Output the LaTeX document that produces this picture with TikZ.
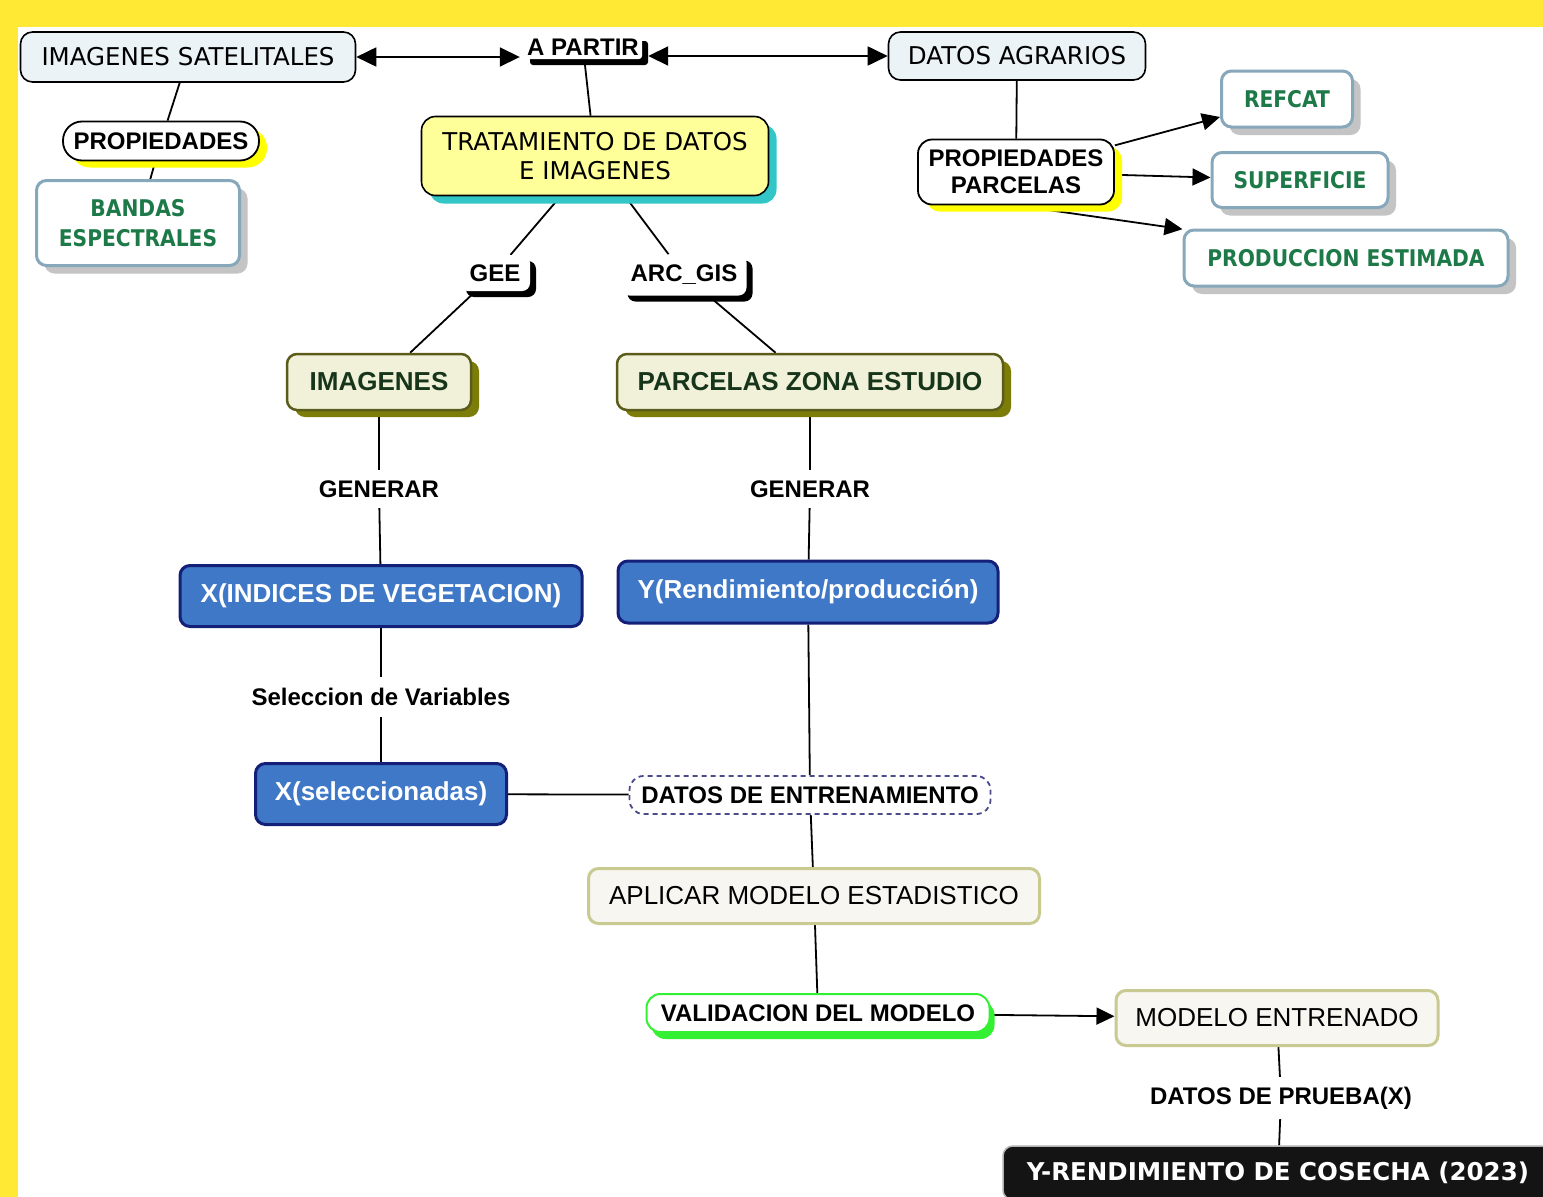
\documentclass[tikz,border=0pt]{standalone}
\usepackage{fontspec}
\setmainfont{Liberation Sans}
\newfontfamily\verd{DejaVu Sans}
\newfontfamily\tah[FakeStretch=0.88]{DejaVu Sans}
\usetikzlibrary{arrows.meta,shadows,calc}
\pgfdeclarelayer{bgzero}
\pgfdeclarelayer{background}
\pgfsetlayers{bgzero,background,main}
\definecolor{ybg}{HTML}{FFE935}
\definecolor{satfill}{HTML}{EBF3F6}
\definecolor{trfill}{HTML}{FFFF99}
\definecolor{shcyan}{HTML}{33C6C6}
\definecolor{pyel}{HTML}{FFFF00}
\definecolor{steel}{HTML}{86A8BA}
\definecolor{shgrey}{HTML}{C4C4C4}
\definecolor{gtext}{HTML}{1D7A48}
\definecolor{olfill}{HTML}{F1F1DA}
\definecolor{olbord}{HTML}{5C5C1A}
\definecolor{olshad}{HTML}{7C7C08}
\definecolor{oltext}{HTML}{17351A}
\definecolor{bfill}{HTML}{3F78C6}
\definecolor{bbord}{HTML}{142078}
\definecolor{dashc}{HTML}{4B4B8C}
\definecolor{cfill}{HTML}{F8F6F1}
\definecolor{cbord}{HTML}{C9C992}
\definecolor{vgreen}{HTML}{33F033}
\definecolor{darkbox}{HTML}{141414}
\tikzset{
  conn/.style={draw=black, line width=1.8pt},
  arr/.style={conn,-{Triangle[length=18pt,width=17pt]}},
  darr/.style={conn,{Triangle[length=20pt,width=19pt]}-{Triangle[length=20pt,width=19pt]}},
  base/.style={rectangle, inner sep=0pt, align=center},
  satbox/.style={base, rounded corners=12pt, draw=black, line width=1.6pt, fill=satfill, font=\verd\fontsize{24.5}{29}\selectfont},
  trbox/.style={base, rounded corners=14pt, draw=black, line width=1.6pt, fill=trfill, font=\verd\fontsize{24.5}{29}\selectfont,
     drop shadow={shadow xshift=8pt, shadow yshift=-8pt, fill=shcyan, opacity=1}},
  propbox/.style={base, draw=black, line width=1.8pt, fill=white, font=\bfseries\fontsize{24}{27}\selectfont,
     drop shadow={shadow xshift=8pt, shadow yshift=-7pt, fill=pyel, opacity=1}},
  greenbox/.style={base, rounded corners=10pt, draw=steel, line width=3pt, fill=white, text=gtext, font=\tah\bfseries\fontsize{23}{30}\selectfont,
     drop shadow={shadow xshift=8pt, shadow yshift=-8pt, fill=shgrey, opacity=1}},
  blab/.style={base, fill=white, rounded corners=8pt, font=\bfseries\fontsize{24}{28}\selectfont,
     drop shadow={shadow xshift=6pt, shadow yshift=-6pt, fill=black, opacity=1}},
  olbox/.style={base, rounded corners=10pt, draw=olbord, line width=2.5pt, fill=olfill, text=oltext, font=\bfseries\fontsize{26}{30}\selectfont,
     drop shadow={shadow xshift=8pt, shadow yshift=-7pt, fill=olshad, opacity=1}},
  bluebox/.style={base, rounded corners=10pt, draw=bbord, line width=3pt, fill=bfill, text=white, font=\bfseries\fontsize{26}{30}\selectfont},
  lbl/.style={base, font=\bfseries\fontsize{24}{28}\selectfont},
  creambox/.style={base, rounded corners=10pt, draw=cbord, line width=3pt, fill=cfill, font=\fontsize{26}{30}\selectfont},
}
\begin{document}
\begin{tikzpicture}[x=1pt,y=-1pt]
\useasboundingbox (0,0) rectangle (1543,1197);
\begin{pgfonlayer}{bgzero}
  \fill[white] (0,0) rectangle (1543,1197);
  \fill[ybg] (0,0) rectangle (1543,27);
  \fill[ybg] (0,0) rectangle (18,1197);
\end{pgfonlayer}

% top row
\node[satbox, minimum width=335pt, minimum height=50pt] (sat) at (188,57) {IMAGENES SATELITALES};
\node[blab, rounded corners=3pt, minimum width=118pt, minimum height=24pt] (apartir) at (583,47) {A PARTIR};
\node[satbox, minimum width=257pt, minimum height=48pt] (agr) at (1017,56) {DATOS AGRARIOS};

% left branch
\node[propbox, rounded corners=19pt, minimum width=196pt, minimum height=39pt] (prop) at (161,141) {PROPIEDADES};
\node[greenbox, minimum width=203pt, minimum height=85pt] (bandas) at (138,223) {BANDAS\\ESPECTRALES};

% centre
\node[trbox, minimum width=347pt, minimum height=79pt] (trat) at (595,156) {TRATAMIENTO DE DATOS\\E IMAGENES};
\node[blab, minimum width=70pt, minimum height=36pt] (gee) at (495,273) {GEE};
\node[blab, minimum width=125pt, minimum height=41pt] (arc) at (684,275) {ARC\_GIS};

% right branch
\node[propbox, rounded corners=14pt, minimum width=196pt, minimum height=65pt] (pp) at (1016,172) {PROPIEDADES\\PARCELAS};
\node[greenbox, minimum width=131pt, minimum height=56pt] (refcat) at (1287,99) {REFCAT};
\node[greenbox, minimum width=176pt, minimum height=55pt] (sup) at (1300,180) {SUPERFICIE};
\node[greenbox, minimum width=324pt, minimum height=56pt] (prod) at (1346,258) {PRODUCCION ESTIMADA};

% olive
\node[olbox, minimum width=184pt, minimum height=56pt] (img) at (379,382) {IMAGENES};
\node[olbox, minimum width=386pt, minimum height=56pt] (parc) at (810,382) {PARCELAS ZONA ESTUDIO};

\node[lbl, minimum width=125pt, minimum height=38pt] (gen1) at (379,489) {GENERAR};
\node[lbl, minimum width=125pt, minimum height=38pt] (gen2) at (810,489) {GENERAR};

\node[bluebox, minimum width=402pt, minimum height=61pt] (xind) at (381,596) {X(INDICES DE VEGETACION)};
\node[bluebox, minimum width=380pt, minimum height=62pt] (ybox) at (808,592) {Y(Rendimiento/producción)};

\node[lbl, minimum width=265pt, minimum height=40pt] (selv) at (381,697) {Seleccion de Variables};
\node[bluebox, minimum width=251pt, minimum height=61pt] (xsel) at (381,794) {X(seleccionadas)};

\node[lbl, draw=dashc, line width=1.8pt, dash pattern=on 5pt off 4pt, rounded corners=14pt, minimum width=361pt, minimum height=38pt] (dent) at (810,795) {DATOS DE ENTRENAMIENTO};
\node[creambox, minimum width=451pt, minimum height=55pt] (apl) at (814,896) {APLICAR MODELO ESTADISTICO};
\node[lbl, draw=vgreen, line width=2pt, fill=white, rounded corners=14pt, minimum width=343pt, minimum height=38pt,
      drop shadow={shadow xshift=5pt, shadow yshift=-7pt, fill=vgreen, opacity=1}] (valid) at (818,1013) {VALIDACION DEL MODELO};
\node[creambox, minimum width=322pt, minimum height=55pt] (modent) at (1277,1018) {MODELO ENTRENADO};
\node[lbl, minimum width=270pt, minimum height=42pt] (prueba) at (1281,1098) {DATOS DE PRUEBA(X)};
\node[base, draw=gray!60, line width=1.5pt, fill=darkbox, rounded corners=10pt, text=white, font=\verd\bfseries\fontsize{24.5}{29}\selectfont,
      minimum width=550pt, minimum height=54pt] (ycos) at (1278,1173) {Y-RENDIMIENTO DE COSECHA (2023)};

% connectors
\begin{pgfonlayer}{background}
  \draw[darr, shorten >=4pt] (sat.east) -- (sat.east -| apartir.west);
  \draw[darr] ([xshift=6pt]apartir.east |- agr.west) -- (agr.west);
  \draw[conn] (apartir) -- (trat);
  \draw[conn] (sat) -- (prop);
  \draw[conn] (prop) -- (bandas);
  \draw[conn] (agr) -- (pp);
  \draw[arr] (pp) -- (refcat);
  \draw[arr] (pp) -- (sup);
  \draw[arr] (pp.south) -- (prod.170);
  \draw[conn] (trat) -- (gee);
  \draw[conn] (trat) -- (arc);
  \draw[conn] (gee) -- (img);
  \draw[conn] (arc) -- (parc);
  \draw[conn] (img) -- (gen1);
  \draw[conn] (gen1) -- (xind);
  \draw[conn] (parc) -- (gen2);
  \draw[conn] (gen2) -- (ybox);
  \draw[conn] (xind) -- (selv);
  \draw[conn] (selv) -- (xsel);
  \draw[conn] (xsel) -- (dent);
  \draw[conn] (ybox) -- (dent);
  \draw[conn] (dent) -- (apl);
  \draw[conn] (apl) -- (valid);
  \draw[arr] (valid) -- (modent);
  \draw[conn] (modent) -- (prueba);
  \draw[conn] (prueba) -- (ycos);
\end{pgfonlayer}
\end{tikzpicture}
\end{document}
